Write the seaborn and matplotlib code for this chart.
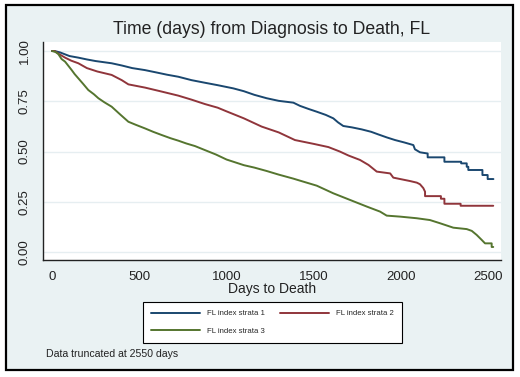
import matplotlib
matplotlib.use("Agg")
import matplotlib.pyplot as plt
import numpy as np
import pandas as pd
import seaborn as sns
from matplotlib.patches import Rectangle
from matplotlib.lines import Line2D

# ---- data (Kaplan-Meier style curves) ----
days_s1 = [0, 15, 46, 100, 151, 200, 250, 342, 400, 460, 533, 600, 660, 724, 800,
           877, 950, 1040, 1100, 1160, 1231, 1300, 1384, 1422, 1470, 1518, 1570, 1613,
           1640, 1670, 1720, 1776, 1830, 1871, 1920, 1967, 2020, 2072, 2081, 2110,
           2154, 2154, 2250, 2250, 2346, 2346, 2378, 2378, 2387, 2387, 2468, 2468,
           2498, 2498, 2531]
surv_s1 = [1.0, 1.0, 0.993, 0.975, 0.967, 0.958, 0.95, 0.939, 0.928, 0.915, 0.905,
           0.893, 0.882, 0.872, 0.855, 0.842, 0.83, 0.814, 0.8, 0.782, 0.765, 0.752,
           0.743, 0.727, 0.712, 0.698, 0.682, 0.665, 0.645, 0.627, 0.62, 0.61, 0.598,
           0.585, 0.57, 0.557, 0.545, 0.532, 0.511, 0.496, 0.49, 0.471, 0.471, 0.449,
           0.449, 0.441, 0.441, 0.424, 0.424, 0.408, 0.408, 0.383, 0.383, 0.363, 0.363]

days_s2 = [0, 15, 40, 75, 110, 151, 200, 260, 342, 400, 438, 533, 620, 724, 800,
           877, 950, 1000, 1100, 1202, 1300, 1393, 1500, 1585, 1650, 1700, 1766, 1815,
           1862, 1939, 1957, 2053, 2092, 2110, 2129, 2139, 2139, 2230, 2230, 2250,
           2250, 2343, 2343, 2530]
surv_s2 = [1.0, 1.0, 0.985, 0.967, 0.952, 0.939, 0.915, 0.898, 0.881, 0.855, 0.834,
           0.818, 0.8, 0.778, 0.758, 0.736, 0.718, 0.7, 0.665, 0.624, 0.595, 0.557,
           0.538, 0.522, 0.5, 0.48, 0.458, 0.433, 0.4, 0.391, 0.37, 0.353, 0.345,
           0.337, 0.318, 0.3, 0.278, 0.278, 0.265, 0.265, 0.24, 0.24, 0.23, 0.23]

days_s3 = [0, 20, 36, 55, 75, 95, 113, 130, 151, 180, 208, 240, 266, 300, 342, 390,
           438, 480, 533, 580, 629, 680, 724, 770, 820, 877, 940, 1001, 1040, 1100,
           1160, 1231, 1300, 1384, 1422, 1518, 1613, 1709, 1805, 1881, 1919, 1996,
           2091, 2167, 2225, 2301, 2378, 2407, 2435, 2464, 2483, 2521, 2521, 2530]
surv_s3 = [1.0, 0.995, 0.985, 0.96, 0.947, 0.925, 0.905, 0.885, 0.864, 0.835, 0.806,
           0.785, 0.765, 0.745, 0.723, 0.685, 0.648, 0.633, 0.615, 0.598, 0.582, 0.566,
           0.554, 0.54, 0.527, 0.507, 0.485, 0.46, 0.449, 0.432, 0.42, 0.403, 0.385,
           0.365, 0.355, 0.33, 0.292, 0.259, 0.226, 0.201, 0.181, 0.176, 0.168, 0.159,
           0.143, 0.121, 0.114, 0.105, 0.085, 0.06, 0.043, 0.043, 0.025, 0.025]

strata = ["FL index strata 1", "FL index strata 2", "FL index strata 3"]
x_ticks = [0, 500, 1000, 1500, 2000, 2500]
y_ticks = [0.0, 0.25, 0.5, 0.75, 1.0]
y_ticklabels = ["0.00", "0.25", "0.50", "0.75", "1.00"]

title = "Time (days) from Diagnosis to Death, FL"
xlabel = "Days to Death"
note = "Data truncated at 2550 days"

# ---- styling ----
sns.set_style("white")
plt.rcParams["font.family"] = ["Liberation Sans", "DejaVu Sans"]

colors = ["#1a476f", "#90353b", "#55752f"]
bg = "#eaf2f3"

df = pd.concat([
    pd.DataFrame({"days": d, "surv": s, "stratum": name})
    for d, s, name in zip([days_s1, days_s2, days_s3],
                          [surv_s1, surv_s2, surv_s3], strata)
], ignore_index=True)

W, H = 520, 377
fig = plt.figure(figsize=(W / 100, H / 100), dpi=100, facecolor="white")

# outer graph region with black frame
fig.patches.append(Rectangle((6 / W, 1 - 370 / H), (513 - 6) / W, (370 - 5) / H,
                             transform=fig.transFigure, facecolor=bg,
                             edgecolor="black", linewidth=1.6, zorder=-5))

left, right, top, bottom = 43, 501, 42, 260
ax = fig.add_axes([left / W, 1 - bottom / H, (right - left) / W, (bottom - top) / H])
ax.set_facecolor("white")

sns.lineplot(data=df, x="days", y="surv", hue="stratum", palette=colors,
             hue_order=strata, estimator=None, sort=False,
             linewidth=1.4, ax=ax, legend=False)

ax.set_xlim(-51.6, 2574.5)
ax.set_ylim(-0.0398, 1.0448)

for yv in y_ticks:
    ax.axhline(yv, color="#e6eef1", linewidth=1.0, zorder=0)

ax.set_xticks(x_ticks)
ax.set_xticklabels([str(v) for v in x_ticks], fontsize=9.5)
ax.set_yticks(y_ticks)
ax.set_yticklabels(y_ticklabels, fontsize=9.5, rotation=90, va="center")
ax.tick_params(axis="both", direction="out", length=5, width=0.9,
               color="#333333", labelcolor="#222222", pad=3)
ax.tick_params(axis="y", pad=4)

for side in ["top", "right"]:
    ax.spines[side].set_visible(False)
for side in ["left", "bottom"]:
    ax.spines[side].set_color("#222222")
    ax.spines[side].set_linewidth(1.0)

ax.set_xlabel(xlabel, fontsize=10, color="#222222", labelpad=-1)
ax.set_ylabel("")

fig.text(272 / W, 1 - 30 / H, title, fontsize=12.7, ha="center", va="center",
         color="#222222")

handles = [Line2D([0], [0], color=c, linewidth=1.4) for c in colors]
# order so that ncol=2 fills row-wise: strata 1 | strata 2 / strata 3
order = [0, 2, 1]
leg = fig.legend([handles[i] for i in order], [strata[i] for i in order],
                 ncol=2, loc="upper left",
                 bbox_to_anchor=(143 / W, 1 - 343 / H, (402 - 143) / W, 41 / H),
                 mode="expand", fontsize=5.6, frameon=True, fancybox=False,
                 edgecolor="black", facecolor="white", framealpha=1,
                 handlelength=6.3, handletextpad=0.9, columnspacing=2.9,
                 borderpad=1.0, labelspacing=1.35, borderaxespad=0)
leg.get_frame().set_linewidth(0.8)

fig.text(46 / W, 1 - 354 / H, note, fontsize=7.6, ha="left", va="center",
         color="#222222")

fig.savefig("out.png", dpi=100, facecolor="white")
